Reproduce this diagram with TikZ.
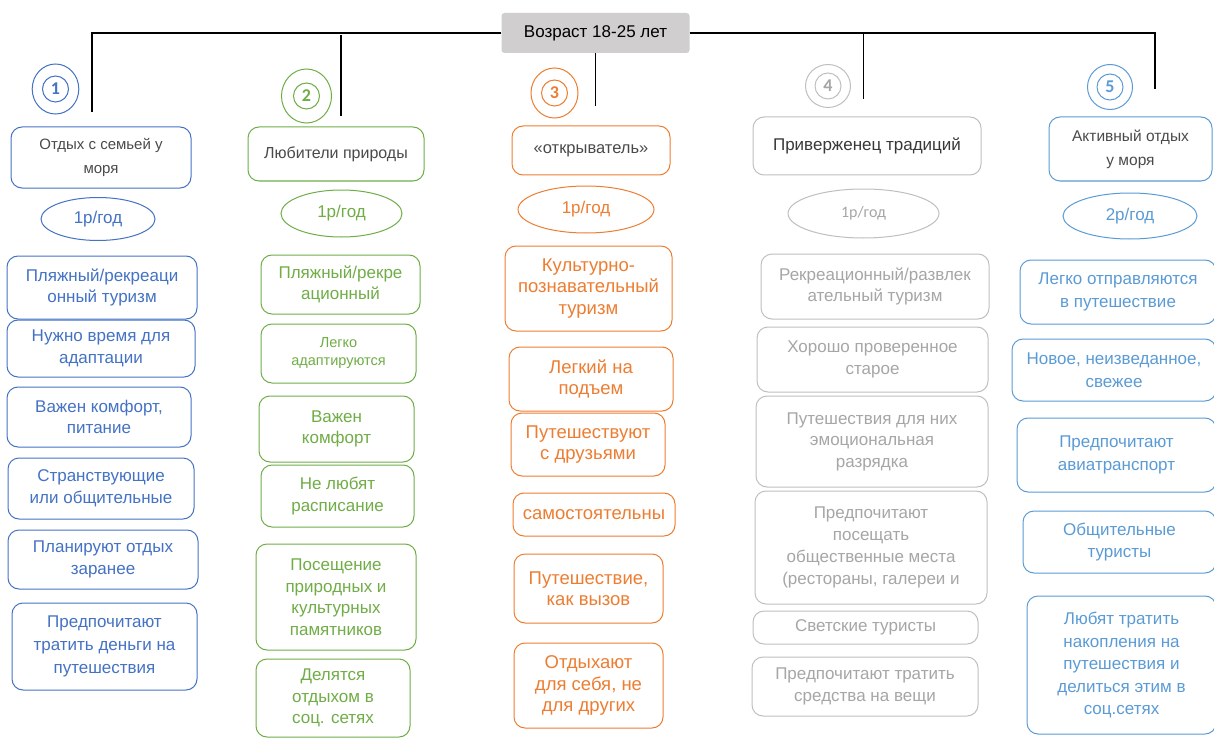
\documentclass[tikz,border=0pt]{standalone}
\usepackage{fontspec}
\setmainfont{Liberation Sans}
\newfontfamily\calfont{Carlito}
\usetikzlibrary{shapes.geometric}
\definecolor{cblue}{HTML}{4472C4}
\definecolor{cgreen}{HTML}{70AD47}
\definecolor{corange}{HTML}{ED7D31}
\definecolor{cgrayline}{HTML}{BFBFBF}
\definecolor{cgraytext}{HTML}{A6A6A6}
\definecolor{clblue}{HTML}{5B9BD5}
\definecolor{hdtext}{HTML}{4A4A4A}
\definecolor{agefill}{HTML}{D0CECE}
\newcommand\rbox[7]{\node[#2, minimum width={#5-#3}, minimum height={#6-#4}] (#1) at ({(#3+#5)/2},{(#4+#6)/2}) {#7};}
\tikzset{
  bx/.style={draw, rounded corners=11pt, line width=1pt, align=center, inner sep=0pt,
    font=\fontsize{17}{21.5}\selectfont},
  hd/.style={bx, text=hdtext},
  el/.style={ellipse, draw, line width=1pt, inner sep=0pt, font=\fontsize{17}{20}\selectfont},
  num/.style={circle, draw, line width=1pt, inner sep=0pt, minimum size=26pt,
    font=\calfont\bfseries\fontsize{18}{18}\selectfont},
  ring/.style={line width=1pt},
  conn/.style={line width=1.3pt, black},
  cA/.style={draw=cblue, text=cblue},
  cB/.style={draw=cgreen, text=cgreen},
  cC/.style={draw=corange, text=corange, font=\fontsize{18.5}{21.5}\selectfont},
  cD/.style={draw=cgrayline, text=cgraytext},
  cE/.style={draw=clblue, text=clblue, font=\fontsize{17}{22.5}\selectfont},
}
\begin{document}
\begin{tikzpicture}[x=1pt, y=-1pt]
\useasboundingbox[fill=white] (0,0) rectangle (1214,738);

% top node
\node[fill=agefill, rounded corners=3pt, minimum width=188pt, minimum height=40pt, inner sep=0pt,
  font=\fontsize{17}{18}\selectfont] (age) at (595.5,33) {Возраст 18-25 лет};
\coordinate (e1) at (92,112);
\coordinate (s2a) at (341,35);
\coordinate (s2b) at (341,116);
\coordinate (e3) at (595.5,106);
\coordinate (e4) at (863.5,99);
\coordinate (e5) at (1155,89);
\draw[conn] (age.west) -| (e1);
\draw[conn] (s2a) -- (s2b);
\draw[conn] (age.south) -- (age.south |- e3);
\draw[conn] (age.east) -| (e5);
\draw[conn] (age.east -| e4) -- (e4);

% number circles
\node[num, cA, font=\calfont\bfseries\fontsize{18}{18}\selectfont] (n1) at (55.5,89) {1};
\draw[ring, cblue] (n1) ellipse [x radius=23.3pt, y radius=25pt];
\node[num, cB, font=\calfont\bfseries\fontsize{18}{18}\selectfont] (n2) at (306.5,96) {2};
\draw[ring, cgreen] (n2) ellipse [x radius=25pt, y radius=27pt];
\node[num, cC, font=\calfont\bfseries\fontsize{18}{18}\selectfont] (n3) at (554.5,93) {3};
\draw[ring, corange] (n3) ellipse [x radius=23.5pt, y radius=25pt];
\node[num, cD, text=cgraytext] (n4) at (828,86) {4};
\draw[ring, cgrayline] (n4) ellipse [x radius=22.5pt, y radius=21.5pt];
\node[num, cE, font=\calfont\bfseries\fontsize{18}{18}\selectfont] (n5) at (1110,87) {5};
\draw[ring, clblue] (n5) ellipse [x radius=22.5pt, y radius=22.5pt];

% column 1
\rbox{h1}{hd, draw=cblue, font=\fontsize{15}{24}\selectfont}{11}{127}{191}{188}{Отдых с семьей у\\моря}
\node[el, cA, minimum width=114pt, minimum height=43pt] (f1) at (98,219) {1р/год};
\rbox{a1}{bx, cA}{7}{256}{197}{319}{Пляжный/рекреаци\\онный туризм}
\rbox{a2}{bx, cA}{7}{320}{195}{377}{Нужно время для\\адаптации}
\rbox{a3}{bx, cA}{7}{387}{191}{447}{Важен комфорт,\\питание}
\rbox{a4}{bx, cA}{8}{458}{194}{519}{Странствующие\\или общительные}
\rbox{a5}{bx, cA}{8}{530}{198}{589}{Планируют отдых\\заранее}
\rbox{a6}{bx, cA, font=\fontsize{17}{23}\selectfont}{12}{603}{197}{690}{Предпочитают\\тратить деньги на\\путешествия}

% column 2
\rbox{h2}{hd, draw=cgreen, font=\fontsize{16}{20}\selectfont}{248}{127}{424}{181}{Любители природы}
\node[el, cB, minimum width=121pt, minimum height=47pt] (f2) at (341.5,213.5) {1р/год};
\rbox{b1}{bx, cB}{261}{255}{420}{314}{Пляжный/рекре\\ационный}
\rbox{b2}{bx, cB, font=\fontsize{14.5}{18}\selectfont}{261}{324}{416}{383}{Легко\\адаптируются}
\rbox{b3}{bx, cB}{259}{396}{414}{462}{Важен\\комфорт}
\rbox{b4}{bx, cB}{261}{465}{414}{527}{Не любят\\расписание}
\rbox{b5}{bx, cB}{256}{544}{416}{650}{Посещение\\природных и\\культурных\\памятников}
\rbox{b6}{bx, cB}{256}{659}{410}{737}{Делятся\\отдыхом в\\соц. сетях}

% column 3
\rbox{h3}{hd, draw=corange, text=hdtext, font=\fontsize{16.5}{20}\selectfont}{512}{126}{670}{175}{«открыватель»}
\node[el, cC, font=\fontsize{17}{20}\selectfont, minimum width=136pt, minimum height=47pt] (f3) at (586,209.5) {1р/год};
\rbox{o1}{bx, cC}{505}{246}{672}{331}{Культурно-\\познавательный\\туризм}
\rbox{o2}{bx, cC}{509}{347}{673}{411}{Легкий на\\подъем}
\rbox{o3}{bx, cC}{511}{413}{665}{476}{Путешествуют\\с друзьями}
\rbox{o4}{bx, cC}{513}{493}{675}{536}{самостоятельны}
\rbox{o5}{bx, cC}{514}{554}{663}{623}{Путешествие,\\как вызов}
\rbox{o6}{bx, cC}{514}{643}{663}{728}{Отдыхают\\для себя, не\\для других}

% column 4
\rbox{h4}{hd, draw=cgrayline, text=black!78, font=\fontsize{17}{20}\selectfont}{753}{117}{981}{175}{Приверженец традиций}
\node[el, cD, minimum width=151pt, minimum height=49pt, font=\calfont\fontsize{16}{18}\selectfont] (f4) at (863.5,213.5) {1р/год};
\rbox{g1}{bx, cD}{761}{254}{989}{319}{Рекреационный/развлек\\ательный туризм}
\rbox{g2}{bx, cD}{757}{327}{988}{392}{Хорошо проверенное\\старое}
\rbox{g3}{bx, cD}{756}{396}{988}{487}{Путешествия для них\\эмоциональная\\разрядка}
\rbox{g4}{bx, cD, font=\fontsize{17}{22}\selectfont}{755}{491}{987}{604}{Предпочитают\\посещать\\общественные места\\(рестораны, галереи и}
\rbox{g5}{bx, cD}{753}{611}{978}{644}{Светские туристы}
\rbox{g6}{bx, cD}{752}{657}{978}{716}{Предпочитают тратить\\средства на вещи}

% column 5
\rbox{h5}{hd, draw=clblue, text=hdtext, font=\fontsize{15.5}{24}\selectfont}{1049}{117}{1212}{181}{Активный отдых\\у моря}
\node[el, cE, font=\fontsize{17}{20}\selectfont, minimum width=134pt, minimum height=46pt] (f5) at (1130,216) {2р/год};
\rbox{p1}{bx, cE}{1020}{260}{1216}{324}{Легко отправляются\\в путешествие}
\rbox{p2}{bx, cE}{1012}{339}{1216}{401}{Новое, неизведанное,\\свежее}
\rbox{p3}{bx, cE}{1017}{418}{1216}{492}{Предпочитают\\авиатранспорт}
\rbox{p4}{bx, cE}{1023}{511}{1216}{573}{Общительные\\туристы}
\rbox{p5}{bx, cE}{1027}{596}{1216}{734}{Любят тратить\\накопления на\\путешествия и\\делиться этим в\\соц.сетях}
\end{tikzpicture}
\end{document}
